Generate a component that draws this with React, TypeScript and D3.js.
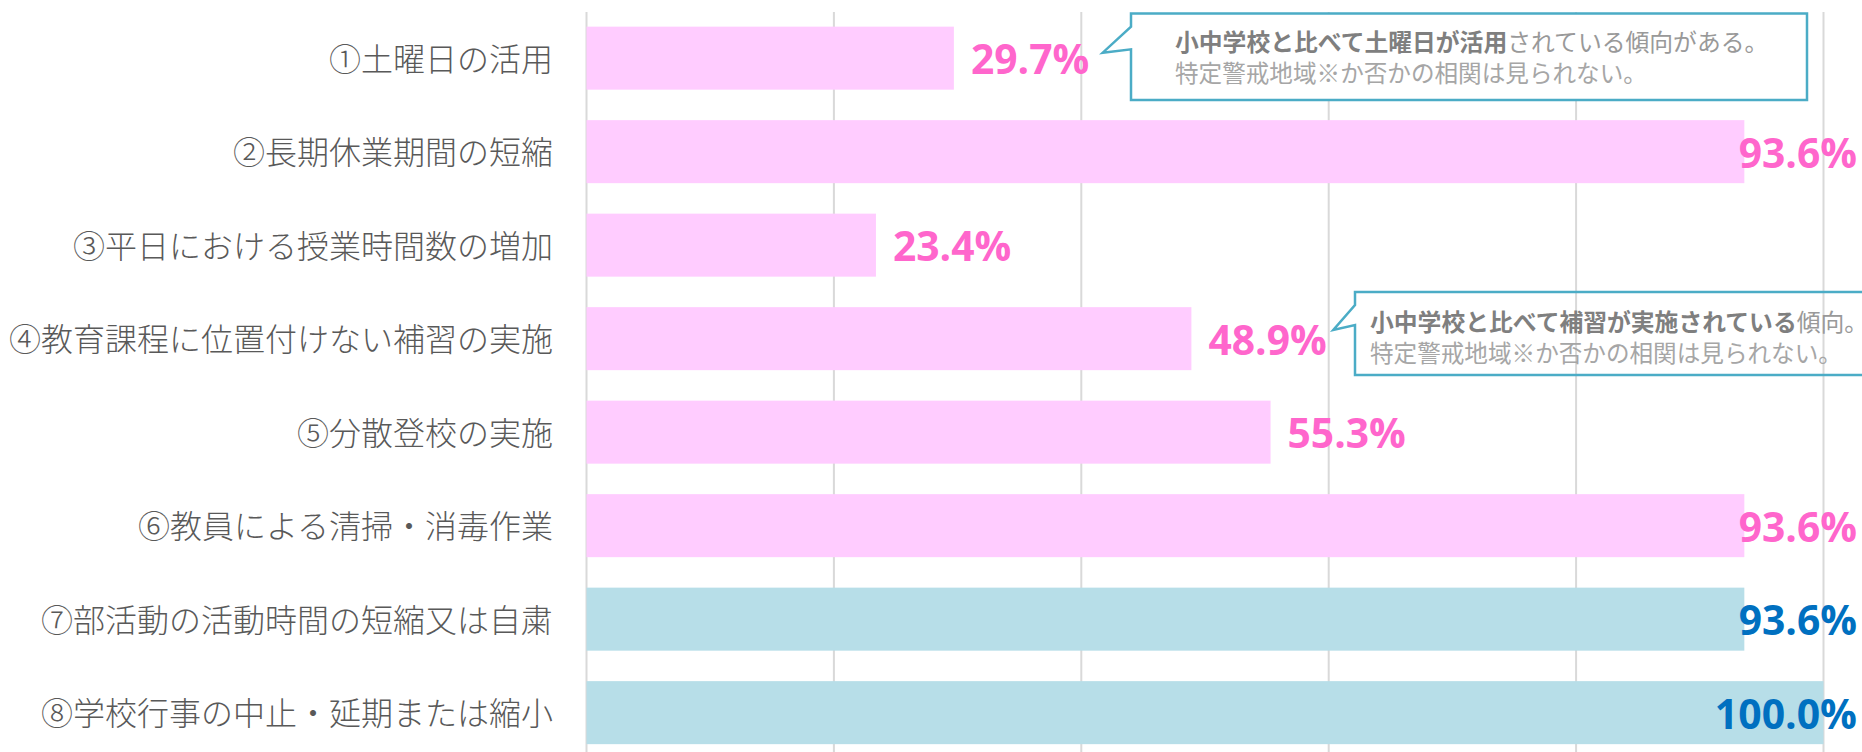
import React from "react";
import * as d3 from "d3";

const categories = [
  "①土曜日の活用",
  "②長期休業期間の短縮",
  "③平日における授業時間数の増加",
  "④教育課程に位置付けない補習の実施",
  "⑤分散登校の実施",
  "⑥教員による清掃・消毒作業",
  "⑦部活動の活動時間の短縮又は自粛",
  "⑧学校行事の中止・延期または縮小",
];
const values = [29.7, 93.6, 23.4, 48.9, 55.3, 93.6, 93.6, 100.0];
const groupOf = [0, 0, 0, 0, 0, 0, 1, 1];
const tickValues = [0, 20, 40, 60, 80, 100];

const callout1Bold = "小中学校と比べて土曜日が活用";
const callout1Rest = "されている傾向がある。";
const callout2Bold = "小中学校と比べて補習が実施されている";
const callout2Rest = "傾向。";
const calloutLine2 = "特定警戒地域※か否かの相関は見られない。";

const W = 1862;
const H = 752;
const barColors = ["#FFCCFF", "#B7DEE8"];
const labelColors = ["#FF66CC", "#0070C0"];

// approx Calibri bold widths (em)
function labelWidth(s: string, fs: number) {
  let w = 0;
  for (const c of s) {
    if (c === ".") w += 0.267;
    else if (c === "%") w += 0.729;
    else w += 0.507;
  }
  return w * fs;
}

export default function App() {
  const x = d3.scaleLinear().domain([0, 100]).range([586.5, 1823.5]);
  const y = d3
    .scaleBand<string>()
    .domain(categories)
    .range([11.4, 759.4])
    .paddingInner(0.326)
    .paddingOuter(0.163);
  const fmt = d3.format(".1f");
  const valueFs = 47;
  const cjk = "'Noto Sans CJK JP', 'Noto Sans', sans-serif";

  return (
    <div style={{ position: "fixed", left: 0, top: 0, width: W, height: H, background: "#fff" }}>
      <svg width={W} height={H} style={{ display: "block" }}>
        <rect width={W} height={H} fill="#fff" />
        {tickValues.map((t) => (
          <line
            key={t}
            x1={x(t)}
            x2={x(t)}
            y1={12}
            y2={H}
            stroke="#D9D9D9"
            strokeWidth={2}
          />
        ))}
        {categories.map((c, i) => {
          const yy = y(c)!;
          const bw = y.bandwidth();
          const cy = yy + bw / 2;
          const txt = fmt(values[i]) + "%";
          const lw = labelWidth(txt, valueFs);
          let lx = x(values[i]) + 17;
          if (lx + lw > 1857) lx = 1857 - lw;
          return (
            <g key={c}>
              <rect
                x={x(0)}
                y={yy}
                width={x(values[i]) - x(0)}
                height={bw}
                fill={barColors[groupOf[i]]}
              />
              <text
                x={553}
                y={cy - 1.5}
                textAnchor="end"
                dominantBaseline="central"
                fontFamily={cjk}
                fontWeight={300}
                fontSize={32}
                fill="#595959"
              >
                {c}
              </text>
              <text
                x={lx}
                y={cy + 16}
                textLength={lw}
                lengthAdjust="spacingAndGlyphs"
                fontFamily="'Open Sans', 'Noto Sans', sans-serif"
                fontWeight={700}
                fontSize={42}
                fill={labelColors[groupOf[i]]}
              >
                {txt}
              </text>
            </g>
          );
        })}

        {/* callout 1 */}
        <path
          d="M1131,13.5 H1807 V100 H1131 V49.3 L1102.7,52.7 L1131,26.7 Z"
          fill="#fff"
          stroke="#4BACC6"
          strokeWidth={2.5}
        />
        <text
          x={1175}
          y={40}
          dominantBaseline="central"
          fontFamily={cjk}
          fontSize={23.8}
        >
          <tspan fontWeight={700} fill="#7F7F7F">{callout1Bold}</tspan>
          <tspan fill="#999999">{callout1Rest}</tspan>
        </text>
        <text
          x={1175}
          y={71.5}
          dominantBaseline="central"
          fontFamily={cjk}
          fontSize={23.6}
          fill="#A6A6A6"
        >
          {calloutLine2}
        </text>

        {/* callout 2 */}
        <path
          d="M1355,292 H1875 V375 H1355 V325 L1333.3,330 L1355,305 Z"
          fill="none"
          stroke="#4BACC6"
          strokeWidth={2.5}
        />
        <text
          x={1370}
          y={319.5}
          dominantBaseline="central"
          fontFamily={cjk}
          fontSize={23.8}
        >
          <tspan fontWeight={700} fill="#7F7F7F">{callout2Bold}</tspan>
          <tspan fill="#999999">{callout2Rest}</tspan>
        </text>
        <text
          x={1370}
          y={351.5}
          dominantBaseline="central"
          fontFamily={cjk}
          fontSize={23.6}
          fill="#A6A6A6"
        >
          {calloutLine2}
        </text>
      </svg>
    </div>
  );
}
